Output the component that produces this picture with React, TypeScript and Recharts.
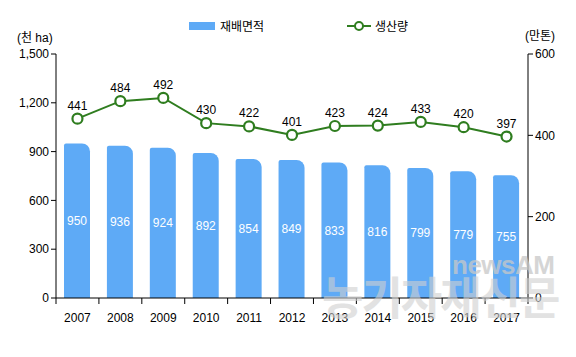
import React from "react";
import { ComposedChart, Bar, Line, XAxis, YAxis, LabelList } from "recharts";

const years = ["2007", "2008", "2009", "2010", "2011", "2012", "2013", "2014", "2015", "2016", "2017"];
const area = [950, 936, 924, 892, 854, 849, 833, 816, 799, 779, 755];
const production = [441, 484, 492, 430, 422, 401, 423, 424, 433, 420, 397];
const leftTicks = [0, 300, 600, 900, 1200, 1500];
const rightTicks = [0, 200, 400, 600];

const data = years.map((y, i) => ({ year: y, area: area[i], production: production[i] }));

const FONT = "'Liberation Sans', Arial, 'Noto Sans CJK KR', sans-serif";
const BLUE = "#5eaaf6";
const GREEN = "#2f7d1f";

const YearTick = (props: any) => {
  const { x, y, payload, index } = props;
  const half = 472 / years.length / 2;
  return (
    <g>
      <line x1={x - half} y1={y - 8} x2={x - half} y2={y - 2} stroke="#000" />
      {index === years.length - 1 && (
        <line x1={x + half} y1={y - 8} x2={x + half} y2={y - 2} stroke="#000" />
      )}
      <text x={x} y={y + 16} textAnchor="middle" fontSize={12} fill="#000" fontFamily={FONT}>
        {payload.value}
      </text>
    </g>
  );
};

const Dot = (props: any) => {
  const { cx, cy } = props;
  return <circle cx={cx} cy={cy} r={5} fill="#fff" stroke={GREEN} strokeWidth={2.2} />;
};

export default function App() {
  return (
    <div style={{ position: "absolute", left: 0, top: 0, width: 576, height: 357, background: "#fff", fontFamily: FONT }}>
      <ComposedChart width={576} height={357} data={data} margin={{ top: 54, right: 0, bottom: 29, left: 0 }}>
        <XAxis
          dataKey="year"
          stroke="#000"
          tickLine={false}
          tick={<YearTick />}
          height={30}
        />
        <YAxis
          yAxisId="left"
          domain={[0, 1500]}
          ticks={leftTicks}
          width={56}
          stroke="#000"
          tickSize={5}
          tick={{ fill: "#000", fontSize: 12, fontFamily: FONT }}
          tickFormatter={(v: number) => v.toLocaleString("en-US")}
        />
        <YAxis
          yAxisId="right"
          orientation="right"
          domain={[0, 600]}
          ticks={rightTicks}
          width={48}
          stroke="#000"
          tickSize={5}
          tick={{ fill: "#000", fontSize: 12, fontFamily: FONT }}
        />
        <Bar yAxisId="left" dataKey="area" fill={BLUE} barSize={26} radius={[2, 8, 0, 0]} isAnimationActive={false}>
          <LabelList dataKey="area" position="center" fill="#fff" fontSize={12} fontFamily={FONT} />
        </Bar>
        <Line
          yAxisId="right"
          dataKey="production"
          stroke={GREEN}
          strokeWidth={2}
          dot={<Dot />}
          isAnimationActive={false}
        >
          <LabelList dataKey="production" position="top" offset={9} fill="#000" fontSize={12} fontFamily={FONT} />
        </Line>
      </ComposedChart>

      <div style={{ position: "absolute", left: 17, top: 28, fontSize: 12, color: "#000" }}>(천 ha)</div>
      <div style={{ position: "absolute", left: 525, top: 26, fontSize: 12, color: "#000" }}>(만톤)</div>

      <div style={{ position: "absolute", left: 189, top: 17, display: "flex", alignItems: "center", fontSize: 12 }}>
        <div style={{ width: 26, height: 8, background: BLUE, marginRight: 5 }} />
        <span>재배면적</span>
      </div>
      <div style={{ position: "absolute", left: 347, top: 17, display: "flex", alignItems: "center", fontSize: 12 }}>
        <svg width={24} height={12} style={{ marginRight: 4 }}>
          <line x1={0} y1={6} x2={24} y2={6} stroke={GREEN} strokeWidth={2} />
          <circle cx={12} cy={6} r={4} fill="#fff" stroke={GREEN} strokeWidth={2} />
        </svg>
        <span>생산량</span>
      </div>

      <div style={{ position: "absolute", left: 452, top: 250, fontSize: 26, fontWeight: "bold", color: "#c8c8c8", opacity: 0.75, letterSpacing: -0.5 }}>
        newsAM
      </div>
      <div style={{ position: "absolute", left: 322, top: 274, fontSize: 45, fontWeight: "bold", color: "#d0d0d0", opacity: 0.6, letterSpacing: -2, lineHeight: "52px" }}>
        농기자재신문
      </div>
    </div>
  );
}
